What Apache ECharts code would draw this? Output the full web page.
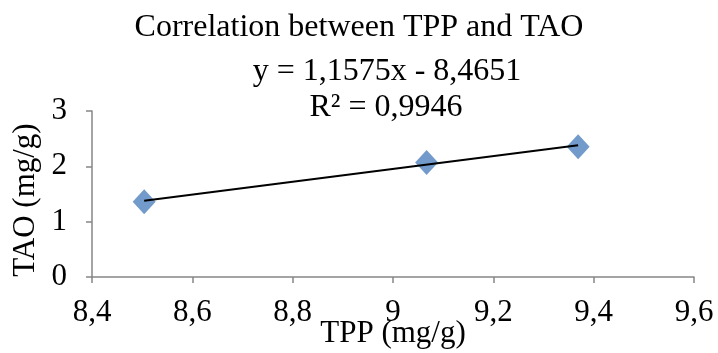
<!DOCTYPE html>
<html>
<head>
<meta charset="utf-8">
<script src="https://cdn.jsdelivr.net/npm/echarts@6/dist/echarts.min.js"></script>
<style>
  html, body { margin: 0; padding: 0; background: #fff; }
  #chart { width: 718px; height: 353px; }
</style>
</head>
<body>
<div id="chart"></div>
<script>
// data
const tpp = [8.504, 9.067, 9.369]
const tao = [1.36, 2.07, 2.355]
// trendline as printed on the chart
const slope = 1.1575
const intercept = -8.4651
const rSquared = '0,9946'
const xTicks = [8.4, 8.6, 8.8, 9.0, 9.2, 9.4, 9.6]
const yTicks = [0, 1, 2, 3]

const fontFamily = '"Liberation Serif", "DejaVu Serif", serif'
const comma = v => String(Math.round(v * 10) / 10).replace('.', ',')

const points = tpp.map((x, i) => [x, tao[i]])
const xFirst = Math.min(...tpp)
const xLast = Math.max(...tpp)
const trend = [
	[xFirst, slope * xFirst + intercept],
	[xLast, slope * xLast + intercept],
]

const chart = echarts.init(document.getElementById('chart'))
chart.setOption({
	animation: false,
	textStyle: { fontFamily },
	grid: { left: 92, right: 24, top: 111, bottom: 76, outerBoundsMode: 'none', containLabel: false },
	graphic: [
		{
			type: 'text', x: 359, y: 28,
			style: { text: 'Correlation between TPP and TAO', fontFamily, fontSize: 32, fill: '#000', align: 'center', verticalAlign: 'middle' },
		},
		{
			type: 'text', x: 387, y: 72,
			style: { text: 'y = ' + String(slope).replace('.', ',') + 'x - ' + String(-intercept).replace('.', ','), fontFamily, fontSize: 32, fill: '#000', align: 'center', verticalAlign: 'middle' },
		},
		{
			type: 'text', x: 386, y: 108,
			style: { text: 'R² = ' + rSquared, fontFamily, fontSize: 32, fill: '#000', align: 'center', verticalAlign: 'middle' },
		},
	],
	xAxis: {
		type: 'value',
		min: xTicks[0],
		max: xTicks[xTicks.length - 1],
		interval: 0.2,
		name: 'TPP (mg/g)',
		nameLocation: 'middle',
		nameGap: 41,
		nameMoveOverlap: false,
		nameTextStyle: { fontFamily, fontSize: 31, color: '#000' },
		splitLine: { show: false },
		axisLine: { lineStyle: { color: '#868686', width: 1.5 } },
		axisTick: { show: true, length: 6, lineStyle: { color: '#868686', width: 1.5 } },
		axisLabel: { fontFamily, fontSize: 31, color: '#000', margin: 20, formatter: comma },
	},
	yAxis: {
		type: 'value',
		min: yTicks[0],
		max: yTicks[yTicks.length - 1],
		interval: 1,
		name: 'TAO (mg/g)',
		nameLocation: 'middle',
		nameGap: 51,
		nameMoveOverlap: false,
		nameTextStyle: { fontFamily, fontSize: 31, color: '#000', padding: [0, 12, 0, 0] },
		splitLine: { show: false },
		axisLine: { show: true, lineStyle: { color: '#868686', width: 1.5 } },
		axisTick: { show: true, length: 6, lineStyle: { color: '#868686', width: 1.5 } },
		axisLabel: { fontFamily, fontSize: 31, color: '#000', margin: 25, padding: [5, 0, 0, 0] },
	},
	series: [
		{
			type: 'scatter',
			data: points,
			symbol: 'diamond',
			symbolSize: [23, 25],
			itemStyle: { color: '#4F81BD' },
			z: 2,
		},
		{
			type: 'line',
			data: trend,
			symbol: 'none',
			lineStyle: { color: '#000', width: 2 },
			z: 3,
		},
	],
})
</script>
</body>
</html>
